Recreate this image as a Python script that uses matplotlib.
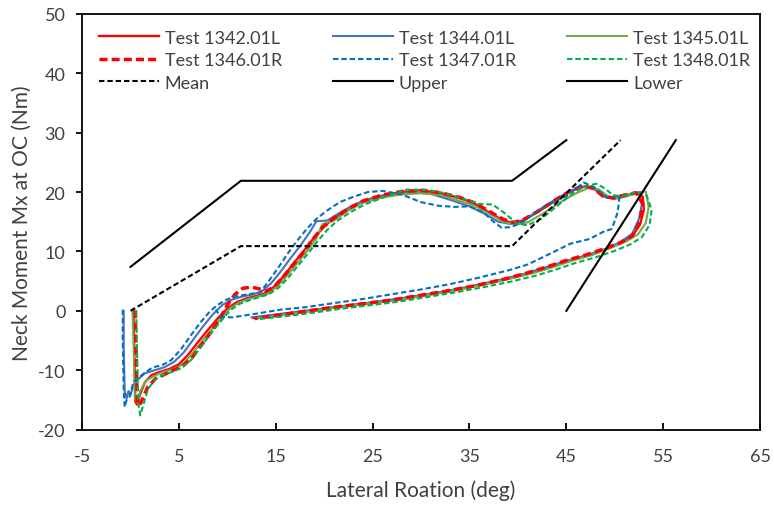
import matplotlib
matplotlib.use("Agg")
import matplotlib.pyplot as plt

plt.rcParams['font.family'] = ['Lato', 'DejaVu Sans']
plt.rcParams['axes.unicode_minus'] = False

# corridor lines
upper_x = [0.0, 11.4, 39.4, 45.0]
upper_y = [7.4, 21.9, 21.9, 28.75]
mean_x = [0.0, 11.4, 39.4, 50.6]
mean_y = [0.0, 10.9, 10.9, 28.75]
lower_x = [45.0, 56.3]
lower_y = [0.0, 28.75]

# test 1342.01L
t1342_x = [0.3, 0.35, 0.5, 0.7, 1.0, 1.5, 2.2, 3.0, 4.0, 5.0,
           6.0, 7.0, 8.0, 9.0, 10.0, 11.0, 12.0, 13.0, 14.0, 15.0,
           16.0, 17.0, 18.0, 19.0, 20.0, 21.0, 22.5, 24.0, 26.0, 28.0,
           30.0, 32.0, 34.0, 35.5, 37.0, 38.5, 39.5, 40.5, 42.0, 44.0,
           45.5, 47.0, 48.0, 49.0, 50.0, 51.0, 52.3, 52.9, 53.0, 52.6,
           51.8, 50.8, 49.5, 47.5, 45.5, 43.5, 41.5, 39.0, 36.0, 33.0,
           30.0, 27.0, 24.0, 21.0, 18.0, 15.5, 12.7]
t1342_y = [0.2, -3.0, -15.3, -15.8, -14.0, -12.0, -10.8, -10.3, -9.8, -9.0,
           -7.3, -5.2, -3.2, -1.3, 0.4, 1.5, 2.1, 2.5, 3.0, 4.3,
           6.2, 8.3, 10.3, 12.4, 14.2, 15.6, 17.2, 18.5, 19.4, 20.0,
           20.3, 19.8, 19.0, 18.1, 16.6, 15.2, 14.8, 15.2, 16.6, 18.7,
           20.2, 21.0, 20.4, 19.2, 18.9, 19.4, 19.8, 19.2, 17.0, 14.5,
           12.6, 11.6, 10.6, 9.5, 8.6, 7.5, 6.5, 5.5, 4.4, 3.4,
           2.6, 1.8, 1.2, 0.6, -0.1, -0.6, -1.2]

# test 1344.01L
t1344_x = [-0.7, -0.7, -0.6, -0.4, -0.2, 0.0, 0.3, 0.8, 1.5, 2.5,
           3.5, 4.5, 5.5, 6.5, 7.5, 8.5, 9.5, 10.5, 11.5, 12.5,
           13.5, 14.5, 15.5, 16.5, 17.5, 18.5, 19.2, 20.3, 21.5, 23.0,
           25.0, 27.0, 29.0, 31.0, 33.0, 35.0, 36.5, 38.0, 39.3, 40.5,
           42.0, 44.0, 45.5, 46.8, 48.0, 49.2, 50.5, 51.5, 52.5, 52.8,
           52.5, 51.8, 50.5, 49.0, 47.0, 45.0, 43.0, 41.0, 38.5, 35.5,
           32.5, 29.5, 26.5, 23.5, 20.5, 17.5, 15.0, 12.5]
t1344_y = [0.0, -6.0, -13.5, -14.8, -13.5, -14.2, -12.5, -11.5, -10.5, -10.0,
           -9.5, -8.6, -7.0, -4.8, -2.6, -0.6, 1.0, 1.9, 2.4, 2.7,
           3.2, 4.6, 6.6, 8.8, 10.9, 13.2, 15.1, 15.2, 16.4, 17.8,
           19.0, 19.6, 20.0, 19.7, 18.7, 17.6, 16.4, 15.0, 14.6, 15.0,
           16.8, 18.9, 20.3, 20.9, 20.6, 19.0, 19.2, 19.6, 19.8, 18.0,
           15.5, 13.0, 11.5, 10.4, 9.3, 8.4, 7.4, 6.4, 5.3, 4.2,
           3.3, 2.5, 1.8, 1.1, 0.5, -0.1, -0.6, -1.1]

# test 1345.01L
t1345_x = [0.2, 0.3, 0.45, 0.7, 1.0, 1.6, 2.4, 3.2, 4.2, 5.2,
           6.2, 7.2, 8.2, 9.2, 10.2, 11.2, 12.2, 13.2, 14.2, 15.2,
           16.2, 17.2, 18.2, 19.2, 19.8, 21.0, 22.5, 24.0, 26.0, 28.0,
           30.0, 32.0, 34.0, 35.5, 37.0, 38.5, 39.8, 41.0, 42.5, 44.5,
           46.0, 47.3, 48.3, 49.3, 50.3, 51.3, 52.3, 53.2, 53.5, 53.2,
           52.4, 51.2, 49.7, 47.7, 45.7, 43.7, 41.7, 39.2, 36.2, 33.2,
           30.2, 27.2, 24.2, 21.2, 18.2, 15.7, 13.0]
t1345_y = [0.1, -4.0, -14.5, -15.5, -13.5, -11.8, -11.0, -10.4, -9.9, -9.2,
           -7.6, -5.5, -3.5, -1.5, 0.3, 1.4, 2.0, 2.4, 2.9, 4.2,
           6.0, 8.0, 10.0, 12.2, 14.6, 15.2, 16.9, 18.2, 19.1, 19.6,
           19.8, 19.5, 18.5, 17.7, 16.4, 15.0, 14.5, 14.9, 16.3, 18.4,
           19.8, 20.7, 20.5, 19.3, 18.9, 19.3, 19.9, 20.1, 17.5, 14.8,
           12.9, 11.7, 10.7, 9.4, 8.5, 7.4, 6.4, 5.4, 4.3, 3.3,
           2.5, 1.7, 1.1, 0.5, -0.2, -0.7, -1.3]

# test 1346.01R
t1346_x = [0.5, 0.55, 0.7, 0.9, 1.2, 1.8, 2.6, 3.4, 4.4, 5.4,
           6.4, 7.4, 8.4, 9.2, 10.0, 10.8, 11.6, 12.5, 13.3, 14.0,
           14.8, 15.8, 16.8, 17.8, 18.8, 19.8, 21.0, 22.5, 24.0, 26.0,
           28.0, 30.0, 32.0, 34.0, 35.5, 37.0, 38.5, 39.5, 40.5, 42.0,
           44.0, 45.5, 46.8, 47.8, 48.8, 49.8, 51.0, 52.2, 52.9, 52.6,
           51.8, 50.6, 49.0, 47.0, 45.0, 43.0, 41.0, 38.5, 35.5, 32.5,
           29.5, 26.5, 23.5, 20.5, 17.5, 15.0, 12.8]
t1346_y = [0.1, -5.0, -15.0, -16.0, -15.0, -12.8, -11.4, -10.8, -10.0, -9.3,
           -7.8, -5.6, -3.4, -1.4, 1.0, 2.8, 3.8, 4.0, 3.7, 3.3,
           4.0, 5.8, 7.8, 9.8, 12.0, 14.0, 15.6, 17.2, 18.5, 19.5,
           20.1, 20.3, 19.9, 19.1, 18.2, 16.8, 15.4, 14.9, 15.3, 16.7,
           18.8, 20.3, 21.1, 20.6, 19.3, 19.0, 19.5, 19.9, 18.0, 15.0,
           12.6, 11.5, 10.5, 9.4, 8.5, 7.4, 6.4, 5.3, 4.2, 3.3,
           2.5, 1.7, 1.1, 0.5, -0.2, -0.8, -1.3]

# test 1347.01R
t1347_x = [-0.8, -0.8, -0.7, -0.6, -0.4, -0.1, 0.3, 0.8, 1.5, 2.3,
           3.2, 4.2, 5.2, 6.2, 7.2, 8.2, 9.0, 9.8, 10.8, 11.8,
           12.6, 13.4, 14.4, 15.4, 16.3, 17.2, 18.2, 19.2, 20.4, 21.6,
           23.0, 24.5, 26.0, 28.0, 30.0, 31.8, 33.5, 35.0, 36.5, 37.5,
           38.3, 39.3, 40.5, 42.0, 43.5, 45.0, 46.0, 46.8, 47.8, 49.2,
           50.5, 50.3, 49.7, 48.8, 47.4, 45.4, 43.3, 41.0, 39.2, 36.0,
           33.0, 30.0, 27.0, 24.0, 21.0, 18.0, 15.5, 12.5, 10.5, 9.3,
           8.8]
t1347_y = [0.2, -5.0, -13.0, -16.2, -15.0, -14.5, -12.0, -11.3, -10.4, -9.5,
           -9.2, -8.3, -6.5, -4.2, -2.0, -0.1, 1.0, 1.8, 2.4, 2.7,
           2.9, 3.1, 5.3, 7.6, 9.8, 11.8, 13.8, 15.5, 17.0, 18.3,
           19.2, 20.0, 20.2, 19.6, 18.3, 17.7, 17.5, 17.6, 16.5, 15.0,
           14.0, 14.1, 15.0, 16.8, 18.2, 19.3, 20.6, 21.6, 20.9, 19.1,
           19.4, 16.6, 13.8, 13.3, 12.1, 11.3, 9.6, 7.8, 6.9, 5.6,
           4.5, 3.6, 2.8, 2.0, 1.3, 0.6, 0.2, -0.6, -1.1, -1.0,
           0.2]

# test 1348.01R
t1348_x = [0.6, 0.65, 0.8, 1.0, 1.3, 1.8, 2.5, 3.3, 4.3, 5.3,
           6.3, 7.3, 8.3, 9.3, 10.3, 11.3, 12.3, 13.3, 14.3, 15.3,
           16.3, 17.3, 18.3, 19.3, 20.3, 21.3, 22.8, 24.3, 26.3, 28.5,
           30.5, 32.5, 34.5, 36.0, 37.4, 38.6, 39.9, 41.0, 42.5, 44.0,
           45.5, 46.8, 48.1, 49.0, 49.8, 50.6, 51.6, 52.5, 53.3, 53.8,
           53.6, 52.8, 51.6, 50.0, 48.0, 46.0, 44.0, 42.0, 39.5, 36.5,
           33.5, 30.5, 27.5, 24.5, 21.5, 18.5, 16.0, 13.2]
t1348_y = [0.0, -5.0, -15.5, -17.6, -16.0, -13.2, -11.6, -10.8, -10.3, -9.6,
           -8.2, -6.0, -3.8, -1.8, 0.1, 1.2, 1.8, 2.3, 2.8, 3.9,
           5.6, 7.6, 9.6, 11.7, 13.6, 15.1, 16.7, 18.0, 19.2, 20.4,
           20.4, 19.8, 18.8, 18.0, 17.9, 16.5, 14.7, 14.4, 15.6, 17.6,
           19.6, 20.9, 21.4, 20.6, 19.5, 19.3, 19.7, 20.0, 19.4, 17.0,
           14.5, 12.4, 11.2, 10.1, 9.0, 8.1, 7.0, 6.0, 5.0, 4.0,
           3.1, 2.3, 1.5, 0.9, 0.3, -0.4, -0.9, -1.4]

fig = plt.figure(figsize=(7.74, 5.06), dpi=100)
ax = fig.add_axes([0.106, 0.149, 0.876, 0.8215])

l1, = ax.plot(t1342_x, t1342_y, color='#FF0000', lw=1.7, label='Test 1342.01L')
l2, = ax.plot(t1344_x, t1344_y, color='#4472C4', lw=1.5, label='Test 1344.01L')
l3, = ax.plot(t1345_x, t1345_y, color='#70AD47', lw=1.5, label='Test 1345.01L')
l4, = ax.plot(t1346_x, t1346_y, color='#FF0000', lw=2.5, dashes=(2.3, 1.2), label='Test 1346.01R')
l5, = ax.plot(t1347_x, t1347_y, color='#0070C0', lw=1.5, dashes=(2.6, 1.4), label='Test 1347.01R')
l6, = ax.plot(t1348_x, t1348_y, color='#00B050', lw=1.5, dashes=(2.6, 1.4), label='Test 1348.01R')
l7, = ax.plot(mean_x, mean_y, color='black', lw=1.5, dashes=(2.6, 1.4), label='Mean')
l8, = ax.plot(upper_x, upper_y, color='black', lw=1.5, label='Upper')
l9, = ax.plot(lower_x, lower_y, color='black', lw=1.5, label='Lower')

ax.set_xlim(-5, 65)
ax.set_ylim(-20, 50)
ax.set_xticks(range(-5, 66, 10))
ax.set_yticks(range(-20, 51, 10))
ax.tick_params(axis='x', direction='in', length=5, width=1.3, labelsize=13,
               labelcolor='#404040', pad=13)
ax.tick_params(axis='y', direction='out', length=4, width=1.3, labelsize=13,
               labelcolor='#404040', pad=8)
for s in ax.spines.values():
    s.set_linewidth(1.3)
    s.set_color('black')

ax.set_xlabel('Lateral Roation (deg)', fontsize=15, color='#404040', labelpad=11)
ax.set_ylabel('Neck Moment Mx at OC (Nm)', fontsize=15, color='#404040', labelpad=4)

# legend filled column by column, so reorder to read row by row
handles = [l1, l4, l7, l2, l5, l8, l3, l6, l9]
leg = ax.legend(handles=handles, ncol=3, loc='upper left', bbox_to_anchor=(0.025, 0.962),
                frameon=False, fontsize=13, handlelength=3.3, handletextpad=0.33,
                columnspacing=2.85, labelspacing=0.36, borderpad=0, borderaxespad=0)
for t in leg.get_texts():
    t.set_color('#404040')

fig.savefig('out.png', dpi=100)
